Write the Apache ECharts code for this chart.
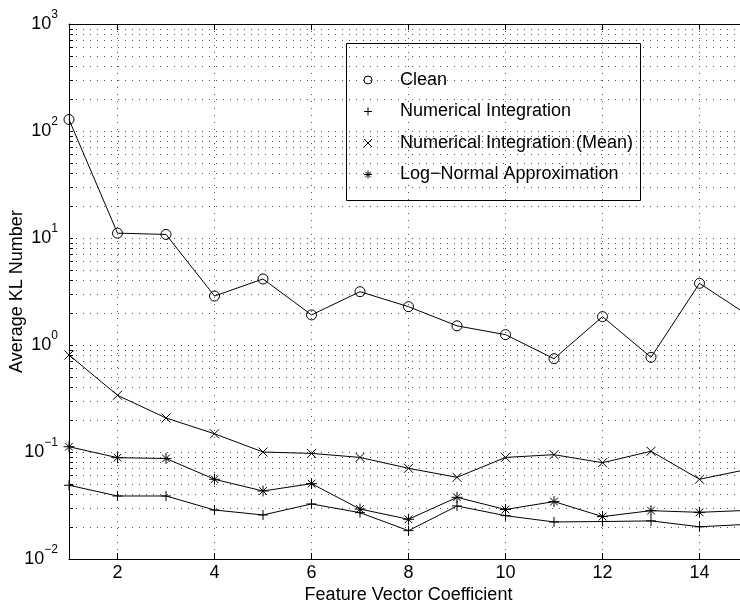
<!DOCTYPE html>
<html>
<head>
<meta charset="utf-8">
<script src="https://cdn.jsdelivr.net/npm/echarts@6/dist/echarts.min.js"></script>
<style>
  html, body { margin: 0; padding: 0; background: #fff; }
  #chart { width: 740px; height: 603px; }
</style>
</head>
<body>
<div id="chart"></div>
<script>
// Feature vector coefficient index (x) and average KL number per method (y, log scale)
const coefficients = [1, 2, 3, 4, 5, 6, 7, 8, 9, 10, 11, 12, 13, 14, 15];
const clean        = [128, 11.1, 10.8, 2.87, 4.14, 1.91, 3.15, 2.28, 1.51, 1.25, 0.745, 1.84, 0.767, 3.77, 1.9];
const numInt       = [0.0489, 0.0388, 0.0388, 0.0287, 0.0258, 0.0327, 0.0271, 0.0184, 0.0313, 0.0254, 0.0222, 0.0224, 0.0227, 0.0200, 0.0211];
const numIntMean   = [0.807, 0.339, 0.208, 0.148, 0.100, 0.097, 0.089, 0.0704, 0.058, 0.089, 0.0944, 0.0794, 0.1016, 0.0556, 0.069];
const logNormal    = [0.112, 0.0885, 0.087, 0.0556, 0.0432, 0.0506, 0.0293, 0.0235, 0.0377, 0.029, 0.0344, 0.0249, 0.0283, 0.0273, 0.0285];

const seriesNames = ['Clean', 'Numerical Integration', 'Numerical Integration (Mean)', 'Log\u2212Normal Approximation'];

// Axis ticks
const xTicks = [2, 4, 6, 8, 10, 12, 14];
const yDecades = [0.01, 0.1, 1, 10, 100, 1000];
const yMinorSteps = [2, 3, 4, 5, 6, 7, 8, 9];

const yAllTicks = [];
yDecades.forEach(function (d, i) {
  yAllTicks.push(d);
  if (i < yDecades.length - 1) {
    yMinorSteps.forEach(function (m) { yAllTicks.push(+(d * m).toPrecision(6)); });
  }
});

// Marker outlines (stroked paths)
const plusPath = 'path://M5,0L5,10M0,5L10,5';
const crossPath = 'path://M0,0L10,10M0,10L10,0';
const starPath = 'path://M5,0L5,10M0,5L10,5M1.5,1.5L8.5,8.5M1.5,8.5L8.5,1.5';

const FONT = 'Liberation Sans, Arial, Helvetica, sans-serif';
const dotted = { color: '#555', width: 1, type: [1, 6] };
const markerStyle = { color: 'none', borderColor: '#000', borderWidth: 1 };

function pairs(ys) {
  return coefficients.map(function (x, i) { return [x, ys[i]]; });
}

function lineSeries(name, ys, symbol, size) {
  return {
    name: name,
    type: 'line',
    data: pairs(ys),
    symbol: symbol,
    symbolSize: size,
    showSymbol: true,
    animation: false,
    lineStyle: { color: '#000', width: 1 },
    itemStyle: markerStyle,
    emphasis: { disabled: true }
  };
}

const chart = echarts.init(document.getElementById('chart'), null, { renderer: 'canvas' });

chart.setOption({
  backgroundColor: '#fff',
  animation: false,
  grid: { left: 69, top: 24, bottom: 44, right: -8, show: false, outerBoundsMode: 'none', containLabel: false },
  xAxis: [{
    type: 'value',
    position: 'bottom',
    min: 1,
    max: 15,
    name: 'Feature Vector Coefficient',
    nameLocation: 'middle',
    nameGap: 27,
    nameMoveOverlap: false,
    nameTextStyle: { fontFamily: FONT, fontSize: 18, color: '#000' },
    axisLine: { show: true, lineStyle: { color: '#000', width: 1 } },
    axisTick: { show: true, inside: true, length: 6, customValues: xTicks, lineStyle: { color: '#000' } },
    axisLabel: { show: true, margin: 5, customValues: xTicks, fontFamily: FONT, fontSize: 18, color: '#000' },
    splitLine: { show: true, lineStyle: dotted }
  }, {
    type: 'value',
    position: 'top',
    min: 1,
    max: 15,
    axisLine: { show: true, lineStyle: { color: '#000', width: 1 } },
    axisTick: { show: true, inside: true, length: 6, customValues: xTicks, lineStyle: { color: '#000' } },
    axisLabel: { show: false },
    splitLine: { show: false }
  }],
  yAxis: {
    type: 'log',
    logBase: 10,
    min: 0.01,
    max: 1000,
    name: 'Average KL Number',
    nameLocation: 'middle',
    nameGap: 43,
    nameMoveOverlap: false,
    nameTextStyle: { fontFamily: FONT, fontSize: 18, color: '#000' },
    axisLine: { show: true, lineStyle: { color: '#000', width: 1 } },
    axisTick: { show: true, inside: true, length: 4, customValues: yAllTicks, lineStyle: { color: '#000' } },
    axisLabel: {
      show: true,
      margin: 11,
      customValues: yDecades,
      formatter: function (v) {
        const e = Math.round(Math.log10(v));
        return '{b|10}{e|' + (e < 0 ? '\u2212' + (-e) : e) + '}';
      },
      rich: {
        b: { fontFamily: FONT, fontSize: 18, color: '#000' },
        e: { fontFamily: FONT, fontSize: 12, color: '#000', padding: [0, 0, 18, 0] }
      }
    },
    splitLine: { show: true, lineStyle: dotted },
    minorTick: { show: false },
    minorSplitLine: { show: false }
  },
  legend: {
    orient: 'vertical',
    left: 336,
    top: 66,
    itemWidth: 54,
    itemHeight: 10,
    itemGap: 13.5,
    selectedMode: false,
    textStyle: { fontFamily: FONT, fontSize: 18, color: '#000', lineHeight: 18 },
    itemStyle: markerStyle,
    lineStyle: { width: 0, opacity: 0 },
    data: seriesNames
  },
  graphic: [{
    type: 'rect',
    shape: { x: 346.5, y: 43.5, width: 294, height: 157 },
    style: { fill: 'none', stroke: '#000', lineWidth: 1 },
    z: 100
  }],
  series: [
    lineSeries(seriesNames[0], clean, 'circle', 10),
    lineSeries(seriesNames[1], numInt, plusPath, 10),
    lineSeries(seriesNames[2], numIntMean, crossPath, 9),
    lineSeries(seriesNames[3], logNormal, starPath, 11)
  ]
});
</script>
</body>
</html>
